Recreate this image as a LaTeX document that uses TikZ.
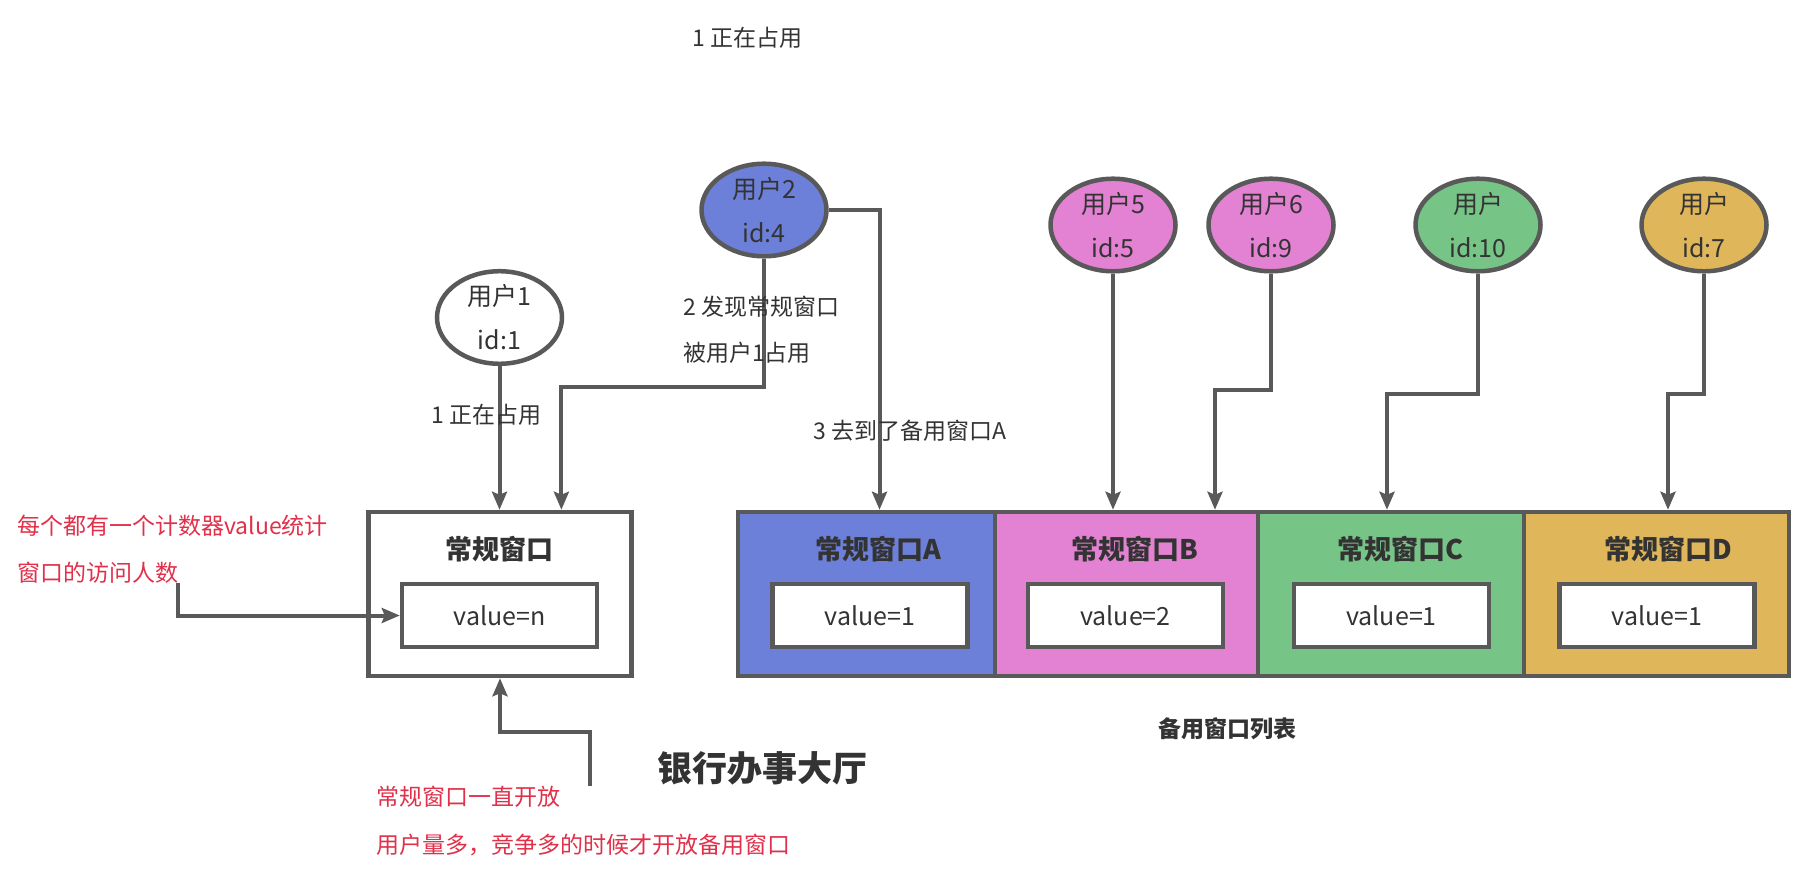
\documentclass[tikz,border=0pt]{standalone}
\usepackage{fontspec}
\setmainfont{Noto Sans CJK SC}
\usetikzlibrary{shapes.geometric,arrows.meta}
\definecolor{lc}{HTML}{595959}
\definecolor{tc}{HTML}{333333}
\definecolor{redt}{HTML}{E0304A}
\definecolor{cblue}{HTML}{6D80D9}
\definecolor{cpink}{HTML}{E381D2}
\definecolor{cgreen}{HTML}{77C487}
\definecolor{cyellow}{HTML}{E0B65A}
\tikzset{
  user/.style={ellipse, draw=lc, line width=4.5pt, minimum width=125pt, minimum height=88pt, inner sep=0pt, align=center, text=tc, font=\fontsize{25}{44}\selectfont},
  win/.style={rectangle, draw=lc, line width=4.5pt, minimum height=164pt, inner sep=0pt},
  valbox/.style={rectangle, draw=lc, fill=white, line width=4.5pt, minimum width=195pt, minimum height=63pt, inner sep=0pt, text=tc, font=\fontsize{25}{30}\selectfont},
  ttl/.style={text=tc, font=\fontsize{27}{32}\selectfont\bfseries, inner sep=0pt},
  lbl/.style={text=tc, font=\fontsize{23}{28}\selectfont, inner sep=0pt, anchor=west},
  rlbl/.style={text=redt, font=\fontsize{23}{28}\selectfont, inner sep=0pt, anchor=west},
  conn/.style={draw=lc, line width=4pt, -{Stealth[length=18pt,width=15pt,inset=3pt]}},
}
\begin{document}
\begin{tikzpicture}[x=1pt,y=-1pt]
\useasboundingbox (0,0) rectangle (1802,872);
% windows
\node[win, minimum width=263pt, fill=white] (main) at (500,594) {};
\node[win, minimum width=257pt, fill=cblue] (wa) at (866.5,594) {};
\node[win, minimum width=263pt, fill=cpink] (wb) at (1126.5,594) {};
\node[win, minimum width=266pt, fill=cgreen] (wc) at (1391,594) {};
\node[win, minimum width=265pt, fill=cyellow] (wd) at (1656.5,594) {};
\node[ttl] (tmain) at (499.5,549.5) {常规窗口};
\node[ttl] (ta) at (878,549.5) {常规窗口A};
\node[ttl] (tb) at (1135,549.5) {常规窗口B};
\node[ttl] (tc) at (1400,549.5) {常规窗口C};
\node[ttl] (td) at (1668,549.5) {常规窗口D};
\node[valbox] (vmain) at (499.5,615.5) {value=n};
\node[valbox] (va) at (870,615.5) {value=1};
\node[valbox] (vb) at (1125.4,615.5) {value=2};
\node[valbox] (vc) at (1391.5,615.5) {value=1};
\node[valbox] (vd) at (1657,615.5) {value=1};
% users
\node[user, fill=white, minimum height=86pt] (u1) at (499.5,317.5) {用户1\\id:1};
\node[user, fill=cblue] (u2) at (764,210) {用户2\\id:4};
\node[user, fill=cpink] (u5) at (1113,225) {用户5\\id:5};
\node[user, fill=cpink] (u6) at (1271,225) {用户6\\id:9};
\node[user, fill=cgreen] (u10) at (1478,225) {用户\\id:10};
\node[user, fill=cyellow] (u7) at (1704,225) {用户\\id:7};
% connectors
\coordinate (b2) at (561.4,386.7);
\coordinate (a3) at (879.5,0);
\coordinate (b6) at (1215,390);
\coordinate (b10) at (1387,394);
\coordinate (b7) at (1668,394);
\coordinate (note1) at (178,583);
\coordinate (note2) at (589.6,786);
\coordinate (b9) at (589.6,732);
\draw[conn] (u1.south) -- (u1.south |- main.north);
\draw[conn] (u2.south) |- (b2) -- (b2 |- main.north);
\draw[conn] (u2.east) -| (a3 |- wa.north);
\draw[conn] (u5.south) -- (u5.south |- wb.north);
\draw[conn] (u6.south) |- (b6) -- (b6 |- wb.north);
\draw[conn] (u10.south) |- (b10) -- (b10 |- wc.north);
\draw[conn] (u7.south) |- (b7) -- (b7 |- wd.north);
\draw[conn] (note1) |- (vmain.west);
\draw[conn] (note2) -- (b9) -| (main.south);
% labels
\node[lbl] (l0) at (692,38) {1 正在占用};
\node[lbl] (l1) at (431.7,415) {1 正在占用};
\node[lbl] (l2a) at (683,307) {2 发现常规窗口};
\node[lbl] (l2b) at (683,353) {被用户1占用};
\node[lbl] (l3) at (813,431) {3 去到了备用窗口A};
\node[rlbl] (r1) at (17,526) {每个都有一个计数器value统计};
\node[rlbl] (r2) at (17,573) {窗口的访问人数};
\node[rlbl] (r3) at (376,797) {常规窗口一直开放};
\node[rlbl] (r4) at (376,845) {用户量多，竞争多的时候才开放备用窗口};
\node[text=tc, font=\fontsize{35}{40}\selectfont\bfseries, inner sep=0pt] (hall) at (762,768) {银行办事大厅};
\node[text=tc, font=\fontsize{23}{28}\selectfont\bfseries, inner sep=0pt] (list) at (1227,729) {备用窗口列表};
\end{tikzpicture}
\end{document}
